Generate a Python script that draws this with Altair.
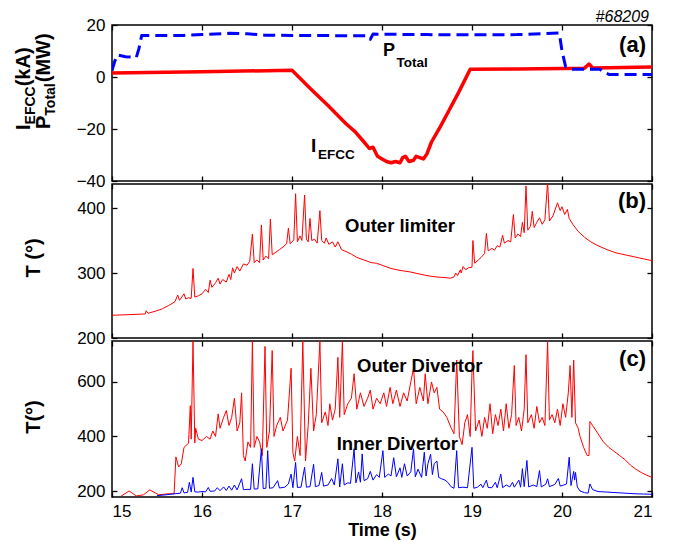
import altair as alt
import pandas as pd

# ---------------- data ----------------
# Panel (a): I_EFCC (kA) and P_Total (MW)
efcc = [(15.0, 1.5), (16.0, 2.0), (17.0, 2.6), (17.2, -4.3), (17.4, -11.0), (17.6, -18.0),
        (17.7, -21.0), (17.8, -25.0), (17.86, -27.5), (17.9, -27.0), (17.95, -30.5), (18.0, -31.5),
        (18.05, -32.5), (18.1, -33.0), (18.15, -32.5), (18.2, -33.0), (18.23, -31.0), (18.26, -30.5),
        (18.3, -32.5), (18.35, -32.0), (18.38, -30.5), (18.42, -31.0), (18.46, -31.5), (18.5, -29.5),
        (18.55, -25.0), (18.65, -19.0), (18.75, -12.5), (18.85, -6.0), (18.98, 3.0), (19.5, 3.1),
        (20.0, 3.3), (20.25, 3.4), (20.3, 5.0), (20.34, 3.5), (21.0, 3.8)]
ptot = [(15.0, 2.5), (15.03, 6.0), (15.06, 8.5), (15.15, 7.8), (15.27, 7.5), (15.3, 11.0),
        (15.33, 16.0), (15.8, 16.0), (16.0, 16.3), (16.3, 16.8), (16.5, 16.6), (16.7, 16.1),
        (17.0, 16.0), (17.5, 15.9), (17.83, 15.9), (17.87, 14.5), (17.9, 16.5), (18.5, 16.3),
        (19.0, 16.2), (19.5, 16.3), (19.97, 16.9), (20.0, 10.0), (20.04, 4.0), (20.1, 3.0),
        (20.42, 3.0), (20.47, 1.8), (20.52, 1.0), (21.0, 1.0)]

# Panel (b): outer limiter temperature
limiter = [(15.0, 235), (15.2, 236), (15.37, 237), (15.38, 242), (15.4, 238), (15.5, 242),
           (15.56, 245), (15.63, 250), (15.7, 256), (15.73, 266), (15.75, 258), (15.8, 268),
           (15.82, 260), (15.85, 262), (15.88, 261), (15.9, 307), (15.92, 263), (15.96, 265),
           (16.0, 268), (16.04, 275), (16.07, 270), (16.09, 289), (16.11, 278), (16.15, 285),
           (16.18, 292), (16.2, 283), (16.23, 290), (16.27, 286), (16.3, 298), (16.32, 290),
           (16.34, 308), (16.36, 300), (16.39, 310), (16.42, 303), (16.46, 314), (16.5, 312),
           (16.53, 318), (16.56, 360), (16.58, 316), (16.61, 320), (16.64, 316), (16.66, 374),
           (16.68, 320), (16.71, 326), (16.74, 322), (16.76, 383), (16.78, 328), (16.82, 332),
           (16.86, 336), (16.9, 340), (16.94, 345), (16.96, 369), (16.98, 345), (17.02, 351),
           (17.04, 422), (17.06, 348), (17.09, 357), (17.11, 350), (17.14, 420), (17.16, 352),
           (17.18, 348), (17.2, 384), (17.22, 350), (17.25, 352), (17.28, 346), (17.31, 396),
           (17.33, 350), (17.36, 346), (17.38, 354), (17.41, 344), (17.45, 348), (17.48, 340),
           (17.51, 348), (17.55, 336), (17.6, 333), (17.66, 329), (17.72, 324), (17.8, 320),
           (17.88, 316), (17.94, 315), (18.02, 311), (18.1, 307), (18.2, 304), (18.3, 302),
           (18.4, 299), (18.5, 296), (18.6, 294), (18.7, 293), (18.76, 292), (18.8, 294),
           (18.82, 300), (18.84, 296), (18.87, 305), (18.88, 300), (18.9, 310), (18.93, 305),
           (18.96, 308), (19.0, 309), (19.01, 350), (19.03, 315), (19.07, 320), (19.1, 324),
           (19.14, 330), (19.16, 361), (19.18, 334), (19.22, 338), (19.25, 335), (19.28, 342),
           (19.31, 340), (19.34, 358), (19.36, 346), (19.4, 350), (19.43, 348), (19.46, 390),
           (19.48, 354), (19.51, 360), (19.54, 356), (19.56, 378), (19.58, 362), (19.6, 434),
           (19.62, 366), (19.65, 372), (19.67, 395), (19.69, 370), (19.72, 378), (19.75, 385),
           (19.78, 375), (19.81, 382), (19.84, 440), (19.86, 380), (19.9, 388), (19.93, 400),
           (19.95, 408), (19.98, 396), (20.0, 402), (20.03, 390), (20.06, 398), (20.08, 384),
           (20.12, 375), (20.18, 364), (20.25, 355), (20.32, 348), (20.4, 342), (20.5, 336),
           (20.6, 331), (20.7, 328), (20.8, 325), (20.9, 322), (21.0, 319)]

# Panel (c): outer and inner divertor temperature
outer_div = [(15.1, 181), (15.19, 200), (15.27, 182), (15.35, 186), (15.42, 204), (15.52, 186),
             (15.63, 190), (15.69, 190), (15.71, 325), (15.74, 288), (15.77, 300), (15.8, 360),
             (15.85, 375), (15.87, 513), (15.88, 390), (15.9, 750), (15.92, 376), (15.93, 430),
             (15.96, 390), (16.0, 385), (16.05, 400), (16.09, 390), (16.12, 420), (16.15, 400),
             (16.18, 483), (16.2, 430), (16.24, 470), (16.27, 495), (16.3, 440), (16.33, 470),
             (16.36, 540), (16.39, 420), (16.42, 450), (16.44, 560), (16.46, 330), (16.48, 310),
             (16.51, 380), (16.54, 360), (16.56, 750), (16.58, 360), (16.61, 400), (16.64, 380),
             (16.67, 330), (16.7, 730), (16.72, 360), (16.75, 420), (16.78, 715), (16.8, 400),
             (16.83, 440), (16.87, 470), (16.9, 420), (16.95, 460), (16.99, 650), (17.01, 340),
             (17.03, 310), (17.06, 400), (17.09, 330), (17.12, 750), (17.15, 310), (17.18, 440),
             (17.21, 650), (17.24, 420), (17.27, 480), (17.31, 750), (17.33, 450), (17.37, 490),
             (17.4, 440), (17.42, 520), (17.45, 460), (17.48, 500), (17.51, 690), (17.53, 470),
             (17.56, 750), (17.58, 480), (17.62, 520), (17.66, 540), (17.69, 630), (17.72, 500),
             (17.76, 560), (17.8, 510), (17.84, 540), (17.87, 570), (17.9, 500), (17.94, 540),
             (17.98, 520), (18.02, 560), (18.05, 510), (18.09, 580), (18.12, 520), (18.16, 570),
             (18.2, 510), (18.24, 560), (18.28, 530), (18.32, 600), (18.35, 650), (18.38, 520),
             (18.42, 580), (18.46, 530), (18.48, 630), (18.51, 520), (18.55, 600), (18.58, 560),
             (18.61, 580), (18.64, 500), (18.68, 490), (18.72, 470), (18.77, 430), (18.8, 410),
             (18.83, 680), (18.86, 400), (18.89, 370), (18.92, 450), (18.95, 480), (18.98, 400),
             (19.0, 640), (19.01, 715), (19.04, 420), (19.08, 460), (19.11, 400), (19.14, 470),
             (19.17, 430), (19.2, 520), (19.23, 410), (19.26, 480), (19.29, 440), (19.32, 500),
             (19.35, 420), (19.38, 520), (19.41, 430), (19.44, 480), (19.47, 660), (19.49, 440),
             (19.52, 470), (19.55, 420), (19.58, 500), (19.6, 700), (19.62, 450), (19.66, 480),
             (19.69, 430), (19.72, 510), (19.75, 450), (19.78, 470), (19.81, 440), (19.84, 750),
             (19.86, 460), (19.89, 480), (19.92, 450), (19.95, 500), (19.98, 440), (20.01, 520),
             (20.04, 470), (20.07, 560), (20.09, 660), (20.11, 470), (20.13, 680), (20.15, 450),
             (20.18, 430), (20.2, 400), (20.24, 360), (20.28, 330), (20.3, 330), (20.31, 455),
             (20.34, 440), (20.4, 410), (20.46, 380), (20.52, 360), (20.58, 345), (20.64, 330),
             (20.7, 315), (20.76, 295), (20.82, 280), (20.88, 268), (20.94, 258), (21.0, 250)]
inner_div = [(15.5, 183), (15.6, 186), (15.7, 190), (15.76, 192), (15.78, 212), (15.8, 193),
             (15.84, 195), (15.86, 232), (15.88, 196), (15.9, 250), (15.92, 197), (15.96, 196),
             (16.0, 198), (16.04, 197), (16.07, 213), (16.09, 199), (16.14, 200), (16.17, 212),
             (16.2, 201), (16.24, 215), (16.27, 202), (16.3, 218), (16.33, 203), (16.36, 222),
             (16.39, 204), (16.44, 245), (16.46, 205), (16.5, 206), (16.54, 206), (16.56, 300),
             (16.58, 207), (16.62, 208), (16.66, 355), (16.68, 209), (16.71, 210), (16.73, 348),
             (16.75, 210), (16.79, 212), (16.84, 238), (16.86, 211), (16.92, 214), (16.96, 226),
             (16.99, 262), (17.01, 212), (17.04, 305), (17.06, 213), (17.1, 214), (17.14, 287),
             (17.16, 214), (17.2, 216), (17.24, 298), (17.26, 216), (17.3, 220), (17.33, 268),
             (17.35, 218), (17.4, 222), (17.44, 246), (17.47, 222), (17.51, 318), (17.53, 215),
             (17.56, 300), (17.58, 222), (17.62, 230), (17.65, 228), (17.69, 355), (17.71, 230),
             (17.74, 270), (17.76, 232), (17.78, 336), (17.8, 238), (17.84, 245), (17.87, 272),
             (17.9, 240), (17.94, 260), (17.97, 250), (18.01, 348), (18.03, 250), (18.07, 262),
             (18.1, 255), (18.13, 322), (18.16, 252), (18.2, 285), (18.22, 250), (18.25, 300),
             (18.28, 255), (18.32, 270), (18.35, 355), (18.37, 252), (18.4, 280), (18.44, 250),
             (18.47, 342), (18.49, 255), (18.51, 300), (18.54, 335), (18.56, 260), (18.58, 300),
             (18.61, 310), (18.63, 250), (18.66, 245), (18.7, 240), (18.73, 232), (18.77, 215),
             (18.8, 210), (18.83, 348), (18.85, 212), (18.9, 214), (18.95, 212), (19.0, 360),
             (19.02, 210), (19.06, 214), (19.1, 225), (19.12, 212), (19.16, 240), (19.18, 213),
             (19.22, 212), (19.26, 232), (19.28, 212), (19.32, 262), (19.34, 212), (19.38, 222),
             (19.42, 215), (19.45, 232), (19.47, 214), (19.52, 240), (19.54, 214), (19.56, 282),
             (19.58, 216), (19.61, 312), (19.63, 215), (19.68, 222), (19.72, 216), (19.75, 275),
             (19.77, 215), (19.82, 225), (19.84, 245), (19.86, 216), (19.92, 224), (19.96, 246),
             (19.98, 218), (20.02, 222), (20.05, 226), (20.08, 324), (20.1, 220), (20.13, 272),
             (20.14, 240), (20.15, 268), (20.17, 215), (20.2, 200), (20.25, 194), (20.29, 192),
             (20.31, 226), (20.34, 205), (20.4, 198), (20.5, 196), (20.6, 194), (20.7, 192),
             (20.8, 190), (20.9, 189), (21.0, 188)]

x_ticks = [15, 16, 17, 18, 19, 20, 21]
a_ticks = [-40, -20, 0, 20]
b_ticks = [200, 300, 400]
c_ticks = [200, 400, 600]

# ---------------- styling / layout ----------------
FONT = "Liberation Sans"
W = 540
HA, HB, HC = 156, 154, 156
RED = "#ff0000"
BLUE = "#0000ff"
TICK_FS = 17

# Arial/Helvetica-bold advance widths (em) used to lay out sub-scripted titles
ADV = {"I": .278, "E": .667, "F": .611, "C": .722, "(": .333, "k": .556, "A": .722, ")": .333,
       "P": .667, "T": .611, "o": .611, "t": .333, "a": .556, "l": .278, "M": .833, "W": .944}


def twidth(s, size):
    return sum(ADV[c] for c in s) * size


def df_of(pairs):
    t, v = zip(*pairs)
    return pd.DataFrame({"t": list(t), "v": list(v)})


def ax(orient, values, labels=False, title=None, labelPadding=7, **kw):
    return alt.Axis(orient=orient, values=values, offset=-5, tickSize=5, tickWidth=1.3,
                    tickColor="black", domain=False, grid=False, labels=labels,
                    labelFont=FONT, labelFontSize=TICK_FS, labelColor="black",
                    labelPadding=labelPadding, title=title, **kw)


def line(pairs, color, width, xs, ys, xaxis, yaxis, dash=None):
    mk = dict(color=color, strokeWidth=width, clip=True, strokeJoin="round")
    if dash:
        mk["strokeDash"] = dash
    return alt.Chart(df_of(pairs)).mark_line(**mk).encode(
        x=alt.X("t:Q", scale=xs, axis=xaxis),
        y=alt.Y("v:Q", scale=ys, axis=yaxis))


def dtext(t, v, s, size, xs, ys, align="left", baseline="alphabetic", xaxis=None, yaxis=None):
    return alt.Chart(pd.DataFrame({"t": [t], "v": [v]})).mark_text(
        text=s, font=FONT, fontSize=size, fontWeight="bold", align=align,
        baseline=baseline, color="black").encode(
        x=alt.X("t:Q", scale=xs, axis=xaxis),
        y=alt.Y("v:Q", scale=ys, axis=yaxis))


def ptext(x, y, s, size, angle=0, align="left", baseline="alphabetic", weight="bold",
          style="normal"):
    return alt.Chart(pd.DataFrame({"d": [0]})).mark_text(
        text=s, font=FONT, fontSize=size, fontWeight=weight, fontStyle=style, angle=angle,
        align=align, baseline=baseline, color="black").encode(
        x=alt.value(x), y=alt.value(y))


def xscale():
    return alt.Scale(domain=[15, 21], nice=False, zero=False)


# ---------------- panel (a) ----------------
xs_a = xscale()
ys_a = alt.Scale(domain=[-40, 20], nice=False, zero=False)

MAIN, SUB = 20, 14
title_a = []
# line 1: I_EFCC(kA)
y0 = 105
x1, x1s = -82, -77
title_a.append(ptext(x1, y0, "I", MAIN, angle=270))
y1 = y0 - twidth("I", MAIN)
title_a.append(ptext(x1s, y1, "EFCC", SUB, angle=270))
y2 = y1 - twidth("EFCC", SUB)
title_a.append(ptext(x1, y2, "(kA)", MAIN, angle=270))
# line 2: P_Total(MW)
y0 = 104
x2, x2s = -62, -57
title_a.append(ptext(x2, y0, "P", MAIN, angle=270))
y1 = y0 - twidth("P", MAIN)
title_a.append(ptext(x2s, y1, "Total", SUB, angle=270))
y2 = y1 - twidth("Total", SUB)
title_a.append(ptext(x2, y2, "(MW)", MAIN, angle=270))

panel_a = alt.layer(
    line(efcc, RED, 3.5, xs_a, ys_a, ax("bottom", x_ticks), ax("left", a_ticks, labels=True)),
    line(ptot, BLUE, 3, xs_a, ys_a, ax("top", x_ticks), ax("right", a_ticks), dash=[12, 6]),
    dtext(18.01, 8.1, "P", 18, xs_a, ys_a),
    dtext(18.16, 3.8, "Total", 13.5, xs_a, ys_a),
    dtext(17.21, -28.8, "I", 19, xs_a, ys_a),
    dtext(17.29, -31.6, "EFCC", 13.5, xs_a, ys_a),
    ptext(W - 6, 20, "(a)", 22, align="right", baseline="middle"),
    ptext(W - 3, -3, "#68209", 16, align="right", weight="normal", style="italic"),
    *title_a,
).properties(width=W, height=HA).resolve_axis(x="independent", y="independent")

# ---------------- panel (b) ----------------
xs_b = xscale()
ys_b = alt.Scale(domain=[200, 437], nice=False, zero=False)
panel_b = alt.layer(
    line(limiter, RED, 1, xs_b, ys_b, ax("bottom", x_ticks), ax("left", b_ticks, labels=True)),
    dtext(18.2, 372, "Outer limiter", 18.5, xs_b, ys_b, align="center", baseline="middle",
          xaxis=ax("top", x_ticks), yaxis=ax("right", b_ticks)),
    ptext(W - 6, 17, "(b)", 22, align="right", baseline="middle"),
    ptext(-72, 74, "T (°)", MAIN, angle=270, align="center"),
).properties(width=W, height=HB).resolve_axis(x="independent", y="independent")

# ---------------- panel (c) ----------------
xs_c = xscale()
ys_c = alt.Scale(domain=[178, 750], nice=False, zero=False)
x_axis_c = ax("bottom", x_ticks, labels=True, title="Time (s)", labelPadding=6,
              titleFont=FONT, titleFontSize=18, titleFontWeight="bold", titleColor="black",
              titlePadding=2)
panel_c = alt.layer(
    line(outer_div, RED, 1, xs_c, ys_c, x_axis_c, ax("left", c_ticks, labels=True)),
    line(inner_div, BLUE, 1, xs_c, ys_c, ax("top", x_ticks), ax("right", c_ticks)),
    dtext(18.42, 659, "Outer Divertor", 18.5, xs_c, ys_c, align="center", baseline="middle"),
    dtext(18.17, 372, "Inner Divertor", 18.5, xs_c, ys_c, align="center", baseline="middle"),
    ptext(W - 6, 18, "(c)", 22, align="right", baseline="middle"),
    ptext(-72, 76, "T(°)", MAIN, angle=270, align="center"),
).properties(width=W, height=HC).resolve_axis(x="independent", y="independent")

chart = alt.vconcat(panel_a, panel_b, panel_c, spacing=3, bounds="flush").properties(
    padding={"left": 5, "top": 0, "right": 5, "bottom": 0},
    background="white",
).configure_view(stroke="black", strokeWidth=1.5)

chart.save("out.html", embed_options={"renderer": "svg", "actions": False})
